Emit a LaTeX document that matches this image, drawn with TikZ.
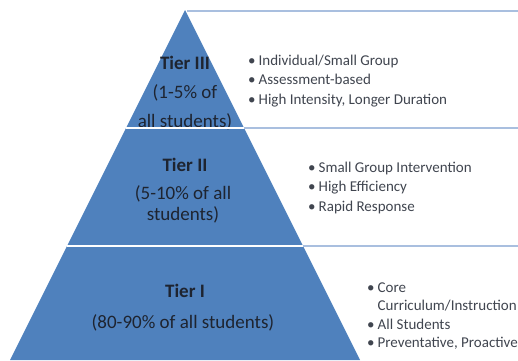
\documentclass[tikz,border=0pt]{standalone}
\usepackage{fontspec}
\setmainfont{Carlito}
\usetikzlibrary{positioning}
\definecolor{tierblue}{HTML}{4F81BD}
\definecolor{ruleblue}{HTML}{A9BFDF}
\definecolor{inktext}{HTML}{1E2430}

\newcommand{\tierlines}[1]{\begin{tabular}[t]{@{}c@{}}#1\end{tabular}}
\newcommand{\itemlines}[1]{\begin{tabular}[t]{@{}l@{\hspace{3pt}}l@{}}#1\end{tabular}}

\begin{document}
\begin{tikzpicture}[x=1pt, y=-1pt,
    tiertitle/.style={font=\fontsize{19}{22}\selectfont\bfseries, text=inktext, inner sep=0pt, anchor=base},
    tiersub/.style={font=\fontsize{19}{29.5}\selectfont, text=inktext, inner sep=0pt, anchor=base},
    bullets/.style={font=\fontsize{15}{19.5}\selectfont, text=inktext!85, inner sep=0pt, anchor=base west},
    gap/.style={white, line width=2pt},
    rule/.style={ruleblue, line width=2pt}]

\useasboundingbox (0,0) rectangle (518,360);

% pyramid
\coordinate (apex) at (185,10);
\coordinate (bl) at (10,360);
\coordinate (br) at (360,360);
\fill[tierblue] (apex) -- (br) -- (bl) -- cycle;

% tier labels
\node[tiertitle] (t3) at (185,69) {Tier III};
\node[tiersub] (t3s) at (185,98) {\tierlines{(1-5\% of\\all students)}};
\node[tiertitle] (t2) at (185,171) {Tier II};
\node[tiersub, font=\fontsize{19}{21}\selectfont] (t2s) at (183,199) {\tierlines{(5-10\% of all\\students)}};
\node[tiertitle] (t1) at (185,297) {Tier I};
\node[tiersub] (t1s) at (183,328) {(80-90\% of all students)};

% band borders
\coordinate (l3) at (126,128);
\coordinate (r3) at (244,128);
\coordinate (l2) at (67,246);
\coordinate (r2) at (303,246);
\coordinate (e0) at (518,11);
\coordinate (e3) at (518,128);
\coordinate (e2) at (518,246);
\draw[rule] (apex) ++(2,1) -- (e0);
\draw[gap] (l3) -- (r3);
\draw[rule] (r3) -- (e3);
\draw[gap] (l2) -- (r2);
\draw[rule] (r2) -- (e2);

% lists
\node[bullets] (b3) at (248,65) {\itemlines{
•&Individual/Small Group\\
•&Assessment-based\\
•&High Intensity, Longer Duration}};
\node[bullets] (b2) at (308,172) {\itemlines{
•&Small Group Intervention\\
•&High Efficiency\\
•&Rapid Response}};
\node[bullets, font=\fontsize{15}{18.5}\selectfont] (b1) at (367,292) {\itemlines{
•&Core\\
&Curriculum/Instruction\\
•&All Students\\
•&Preventative, Proactive}};
\end{tikzpicture}
\end{document}
